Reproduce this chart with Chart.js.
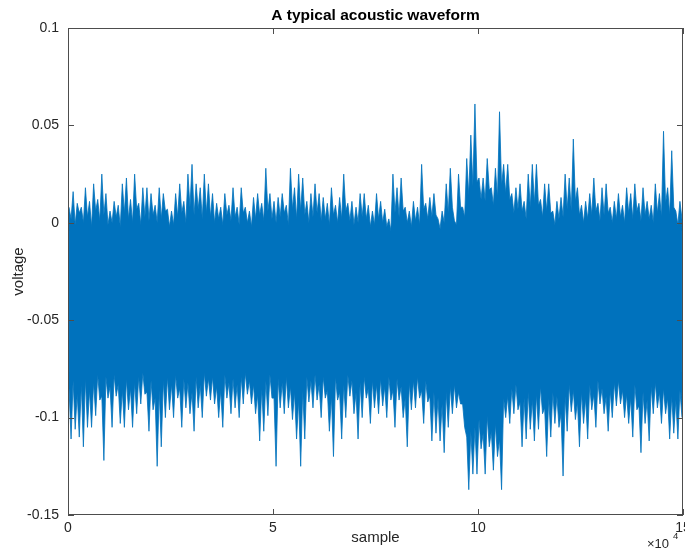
<!DOCTYPE html>
<html>
<head>
<meta charset="utf-8">
<script src="https://cdn.jsdelivr.net/npm/chart.js@4.4.0/dist/chart.umd.min.js"></script>
<style>
html,body{margin:0;padding:0;background:#fff;}
#wrap{position:relative;width:685px;height:556px;}
</style>
</head>
<body>
<div id="wrap"><canvas id="waveChart"></canvas></div>
<script>
// samples per envelope bin (150 bins x 1000 samples)
const binSize = 1000;

// highest and lowest spike in each bin
const peakHigh = [
  0.008, 0.016, 0.010, 0.008, 0.018, 0.011, 0.020, 0.012, 0.025, 0.015,
  0.006, 0.011, 0.009, 0.020, 0.023, 0.012, 0.025, 0.010, 0.018, 0.018,
  0.015, 0.009, 0.018, 0.015, 0.007, 0.006, 0.015, 0.020, 0.011, 0.025,
  0.030, 0.020, 0.018, 0.025, 0.020, 0.015, 0.010, 0.008, 0.015, 0.009,
  0.018, 0.008, 0.018, 0.008, 0.006, 0.013, 0.015, 0.010, 0.028, 0.015,
  0.011, 0.013, 0.015, 0.009, 0.028, 0.018, 0.025, 0.023, 0.011, 0.015,
  0.020, 0.015, 0.013, 0.010, 0.018, 0.009, 0.013, 0.025, 0.010, 0.011,
  0.008, 0.015, 0.015, 0.009, 0.006, 0.015, 0.011, 0.007, 0.002, 0.025,
  0.018, 0.023, 0.008, 0.006, 0.011, 0.008, 0.030, 0.010, 0.013, 0.015,
  0.002, 0.006, 0.020, 0.028, 0.001, 0.025, 0.008, 0.033, 0.045, 0.061,
  0.023, 0.023, 0.033, 0.018, 0.028, 0.057, 0.030, 0.030, 0.015, 0.018,
  0.020, 0.011, 0.025, 0.030, 0.030, 0.012, 0.020, 0.020, 0.006, 0.011,
  0.013, 0.025, 0.023, 0.043, 0.018, 0.009, 0.011, 0.015, 0.023, 0.010,
  0.018, 0.020, 0.008, 0.011, 0.015, 0.009, 0.018, 0.015, 0.020, 0.010,
  0.018, 0.011, 0.009, 0.020, 0.015, 0.047, 0.018, 0.037, 0.006, 0.011
];
const peakLow = [
  -0.111, -0.106, -0.110, -0.115, -0.105, -0.105, -0.099, -0.091, -0.122, -0.090,
  -0.105, -0.089, -0.103, -0.105, -0.096, -0.105, -0.098, -0.093, -0.088, -0.107,
  -0.096, -0.125, -0.115, -0.100, -0.096, -0.100, -0.090, -0.105, -0.095, -0.098,
  -0.107, -0.095, -0.100, -0.089, -0.091, -0.093, -0.100, -0.105, -0.090, -0.098,
  -0.095, -0.100, -0.093, -0.088, -0.093, -0.098, -0.112, -0.107, -0.099, -0.090,
  -0.125, -0.095, -0.098, -0.095, -0.101, -0.111, -0.125, -0.111, -0.092, -0.095,
  -0.091, -0.100, -0.090, -0.107, -0.120, -0.091, -0.111, -0.100, -0.089, -0.098,
  -0.111, -0.100, -0.090, -0.103, -0.095, -0.098, -0.094, -0.100, -0.091, -0.105,
  -0.091, -0.100, -0.115, -0.096, -0.095, -0.090, -0.103, -0.092, -0.112, -0.108,
  -0.112, -0.118, -0.105, -0.098, -0.095, -0.093, -0.105, -0.137, -0.129, -0.129,
  -0.116, -0.129, -0.115, -0.127, -0.120, -0.137, -0.100, -0.103, -0.098, -0.096,
  -0.115, -0.111, -0.106, -0.112, -0.106, -0.098, -0.120, -0.110, -0.103, -0.105,
  -0.130, -0.107, -0.097, -0.101, -0.115, -0.103, -0.111, -0.096, -0.105, -0.093,
  -0.098, -0.107, -0.100, -0.094, -0.093, -0.100, -0.103, -0.110, -0.096, -0.118,
  -0.103, -0.112, -0.098, -0.095, -0.103, -0.098, -0.111, -0.108, -0.111, -0.100
];

// second-tier spikes in each bin (edge of the solid band)
const innerHigh = [
  0.002, -0.001, 0.005, 0.000, 0.003, -0.002, 0.006, 0.001, 0.004, -0.001,
  0.000, 0.003, -0.002, 0.005, 0.002, 0.000, 0.007, -0.001, 0.003, 0.001,
  0.004, 0.000, 0.002, 0.006, -0.002, -0.001, 0.003, 0.005, 0.000, 0.008,
  0.004, 0.007, 0.002, 0.005, 0.003, 0.000, 0.002, -0.001, 0.004, 0.001,
  0.003, -0.001, 0.005, 0.000, -0.002, 0.002, 0.004, 0.001, 0.006, 0.002,
  0.000, 0.003, 0.005, -0.001, 0.007, 0.002, 0.006, 0.004, 0.000, 0.003,
  0.005, 0.001, 0.002, -0.001, 0.004, 0.000, 0.002, 0.006, 0.001, -0.001,
  0.000, 0.003, 0.002, -0.002, -0.001, 0.002, 0.000, -0.002, -0.004, 0.005,
  0.003, 0.006, 0.000, -0.002, 0.001, -0.001, 0.007, 0.002, 0.003, 0.004,
  -0.003, 0.000, 0.005, 0.008, -0.001, 0.008, 0.003, 0.014, 0.019, 0.021,
  0.012, 0.011, 0.017, 0.009, 0.013, 0.019, 0.015, 0.012, 0.005, 0.007,
  0.006, 0.002, 0.008, 0.010, 0.009, 0.003, 0.006, 0.005, -0.001, 0.002,
  0.003, 0.007, 0.006, 0.011, 0.004, 0.000, 0.002, 0.004, 0.006, 0.001,
  0.004, 0.005, 0.000, 0.002, 0.003, 0.000, 0.005, 0.002, 0.006, 0.001,
  0.004, 0.002, 0.000, 0.005, 0.003, 0.010, 0.004, 0.008, -0.001, 0.002
];
const innerLow = [
  -0.085, -0.081, -0.088, -0.083, -0.080, -0.086, -0.082, -0.078, -0.089, -0.079,
  -0.084, -0.078, -0.083, -0.086, -0.080, -0.085, -0.082, -0.079, -0.077, -0.087,
  -0.081, -0.090, -0.086, -0.081, -0.079, -0.083, -0.078, -0.085, -0.080, -0.082,
  -0.087, -0.079, -0.083, -0.077, -0.080, -0.079, -0.084, -0.086, -0.078, -0.082,
  -0.080, -0.083, -0.079, -0.077, -0.081, -0.083, -0.088, -0.085, -0.081, -0.078,
  -0.090, -0.080, -0.082, -0.079, -0.084, -0.087, -0.091, -0.086, -0.079, -0.081,
  -0.078, -0.083, -0.079, -0.086, -0.089, -0.079, -0.087, -0.083, -0.078, -0.081,
  -0.087, -0.082, -0.079, -0.085, -0.081, -0.083, -0.080, -0.084, -0.079, -0.086,
  -0.080, -0.084, -0.090, -0.082, -0.081, -0.079, -0.086, -0.081, -0.089, -0.087,
  -0.090, -0.093, -0.087, -0.084, -0.083, -0.087, -0.093, -0.110, -0.107, -0.105,
  -0.101, -0.108, -0.099, -0.107, -0.103, -0.111, -0.090, -0.089, -0.085, -0.083,
  -0.092, -0.090, -0.087, -0.091, -0.088, -0.084, -0.095, -0.090, -0.087, -0.089,
  -0.098, -0.089, -0.083, -0.086, -0.092, -0.087, -0.090, -0.083, -0.088, -0.081,
  -0.085, -0.089, -0.086, -0.082, -0.081, -0.086, -0.088, -0.090, -0.083, -0.094,
  -0.087, -0.091, -0.084, -0.082, -0.087, -0.085, -0.090, -0.089, -0.091, -0.086
];

const xTicks = [0, 50000, 100000, 150000];
const xTickLabels = ['0', '5', '10', '15'];
const yTicks = [-0.15, -0.1, -0.05, 0, 0.05, 0.1];
const yTickLabels = ['-0.15', '-0.1', '-0.05', '0', '0.05', '0.1'];

const lineBlue = '#0072BD';
const axisGrey = '#4d4d4d';
const fontFam = '"Liberation Sans", Arial, Helvetica, sans-serif';

// upper edge alternates big spike / smaller spike, same for the lower edge;
// the band between them is filled solid
const upperEdge = [];
const lowerEdge = [];
peakHigh.forEach((hi, i) => {
  const x0 = i * binSize;
  upperEdge.push({x: x0 + binSize * 0.25, y: hi});
  upperEdge.push({x: x0 + binSize * 0.75, y: innerHigh[i]});
  lowerEdge.push({x: x0 + binSize * 0.25, y: innerLow[i]});
  lowerEdge.push({x: x0 + binSize * 0.75, y: peakLow[i]});
});

const frame = {
  id: 'frame',
  afterDatasetsDraw(chart) {
    const {ctx, chartArea: a, scales: {x, y}} = chart;
    ctx.save();
    ctx.strokeStyle = axisGrey;
    ctx.lineWidth = 1;
    ctx.strokeRect(a.left + 0.5, a.top + 0.5, a.right - a.left - 1, a.bottom - a.top - 1);
    ctx.beginPath();
    xTicks.forEach(v => {
      const px = Math.round(x.getPixelForValue(v)) + 0.5;
      ctx.moveTo(px, a.bottom); ctx.lineTo(px, a.bottom - 6);
      ctx.moveTo(px, a.top); ctx.lineTo(px, a.top + 6);
    });
    yTicks.forEach(v => {
      const py = Math.round(y.getPixelForValue(v)) + 0.5;
      ctx.moveTo(a.left, py); ctx.lineTo(a.left + 6, py);
      ctx.moveTo(a.right, py); ctx.lineTo(a.right - 6, py);
    });
    ctx.stroke();
    ctx.restore();
  },
  afterDraw(chart) {
    const {ctx, chartArea: a} = chart;
    const cx = (a.left + a.right) / 2;
    ctx.save();
    ctx.fillStyle = '#000';
    ctx.textAlign = 'center';
    ctx.textBaseline = 'alphabetic';
    ctx.font = 'bold 15.5px ' + fontFam;
    ctx.fillText('A typical acoustic waveform', cx, 20);
    ctx.fillStyle = '#262626';
    ctx.font = '15px ' + fontFam;
    ctx.fillText('sample', cx, 542);
    ctx.save();
    ctx.translate(23, (a.top + a.bottom) / 2);
    ctx.rotate(-Math.PI / 2);
    ctx.fillText('voltage', 0, 0);
    ctx.restore();
    ctx.textAlign = 'left';
    ctx.font = '13px ' + fontFam;
    ctx.fillText('\u00d710', 647, 548);
    ctx.font = '9.5px ' + fontFam;
    ctx.fillText('4', 673, 539);
    ctx.restore();
  }
};

new Chart(document.getElementById('waveChart'), {
  type: 'line',
  data: {
    datasets: [
      {
        data: upperEdge,
        borderWidth: 0.8,
        borderColor: lineBlue,
        backgroundColor: lineBlue,
        pointRadius: 0,
        tension: 0,
        fill: '+1'
      },
      {
        data: lowerEdge,
        borderWidth: 0.8,
        borderColor: lineBlue,
        pointRadius: 0,
        tension: 0,
        fill: false
      }
    ]
  },
  options: {
    responsive: true,
    maintainAspectRatio: false,
    animation: false,
    events: [],
    layout: {padding: {top: 28, right: 2, left: 0, bottom: 0}},
    plugins: {
      legend: {display: false},
      title: {display: false},
      tooltip: {enabled: false}
    },
    scales: {
      x: {
        type: 'linear',
        min: 0,
        max: 150000,
        grid: {display: false, drawTicks: false},
        border: {display: false},
        afterBuildTicks: s => { s.ticks = xTicks.map(v => ({value: v})); },
        afterFit: s => { s.height = 41; s.paddingLeft = 0; s.paddingRight = 0; },
        ticks: {
          autoSkip: false,
          maxRotation: 0,
          padding: 5,
          color: '#262626',
          font: {family: fontFam, size: 14},
          callback: v => xTickLabels[xTicks.indexOf(v)]
        }
      },
      y: {
        min: -0.15,
        max: 0.1,
        grid: {display: false, drawTicks: false},
        border: {display: false},
        afterBuildTicks: s => { s.ticks = yTicks.map(v => ({value: v})); },
        afterFit: s => { s.width = 68; s.paddingTop = 0; s.paddingBottom = 0; },
        ticks: {
          autoSkip: false,
          padding: 9,
          color: '#262626',
          font: {family: fontFam, size: 14},
          callback: v => yTickLabels[yTicks.indexOf(v)]
        }
      }
    }
  },
  plugins: [frame]
});
</script>
</body>
</html>
